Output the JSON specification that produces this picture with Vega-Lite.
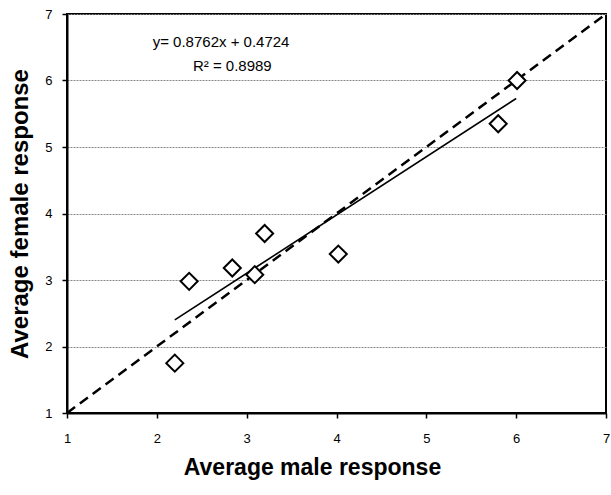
{
  "$schema": "https://vega.github.io/schema/vega-lite/v6.json",
  "width": 539,
  "height": 399,
  "autosize": "none",
  "padding": {"left": 67, "top": 14, "right": 5, "bottom": 82},
  "background": "white",
  "config": {
    "view": {"stroke": "black", "strokeWidth": 2},
    "font": "Liberation Sans"
  },
  "datasets": {
    "points": [
      {"male": 2.2, "female": 1.75},
      {"male": 2.36, "female": 2.98},
      {"male": 2.84, "female": 3.18},
      {"male": 3.09, "female": 3.08},
      {"male": 3.2, "female": 3.7},
      {"male": 4.02, "female": 3.39},
      {"male": 5.8, "female": 5.35},
      {"male": 6.01, "female": 6.0}
    ],
    "trend": [
      {"male": 2.2, "female": 2.4},
      {"male": 6.0, "female": 5.73}
    ],
    "identity": [
      {"male": 1, "female": 1},
      {"male": 7, "female": 7}
    ],
    "labels": [
      {"male": 2.715, "female": 6.58, "text": "y= 0.8762x + 0.4724"},
      {"male": 2.84, "female": 6.22, "text": "R² = 0.8989"}
    ]
  },
  "encoding": {
    "x": {
      "field": "male", "type": "quantitative",
      "scale": {"domain": [1, 7], "nice": false, "zero": false},
      "axis": {
        "title": "Average male response",
        "values": [1, 2, 3, 4, 5, 6, 7],
        "grid": false,
        "domainColor": "black", "domainWidth": 2,
        "tickColor": "black", "tickWidth": 1.5, "tickSize": 5,
        "labelFontSize": 13, "labelColor": "black", "labelPadding": 14,
        "labelFlush": false,
        "titleFontSize": 23, "titleFontWeight": "bold", "titleColor": "black",
        "titlePadding": 11, "titleX": 245, "titleAnchor": "middle"
      }
    },
    "y": {
      "field": "female", "type": "quantitative",
      "scale": {"domain": [1, 7], "nice": false, "zero": false},
      "axis": {
        "title": "Average female response",
        "values": [1, 2, 3, 4, 5, 6, 7],
        "grid": true,
        "gridColor": "#888888", "gridDash": [2, 1], "gridWidth": 1,
        "domainColor": "black", "domainWidth": 2,
        "tickColor": "black", "tickWidth": 1.5, "tickSize": 5,
        "labelFontSize": 13, "labelColor": "black", "labelPadding": 10,
        "labelFlush": false,
        "titleFontSize": 24, "titleFontWeight": "bold", "titleColor": "black",
        "titlePadding": 12
      }
    }
  },
  "layer": [
    {
      "data": {"name": "identity"},
      "mark": {"type": "line", "color": "black", "strokeWidth": 2.5, "strokeDash": [10, 6], "clip": true}
    },
    {
      "data": {"name": "trend"},
      "mark": {"type": "line", "color": "black", "strokeWidth": 1.6}
    },
    {
      "data": {"name": "points"},
      "mark": {"type": "point", "shape": "diamond", "filled": false, "fill": "white", "fillOpacity": 1, "stroke": "black", "strokeWidth": 2, "size": 290, "opacity": 1}
    },
    {
      "data": {"name": "labels"},
      "mark": {"type": "text", "fontSize": 15, "color": "black", "align": "center", "baseline": "middle"},
      "encoding": {"text": {"field": "text"}}
    }
  ]
}
